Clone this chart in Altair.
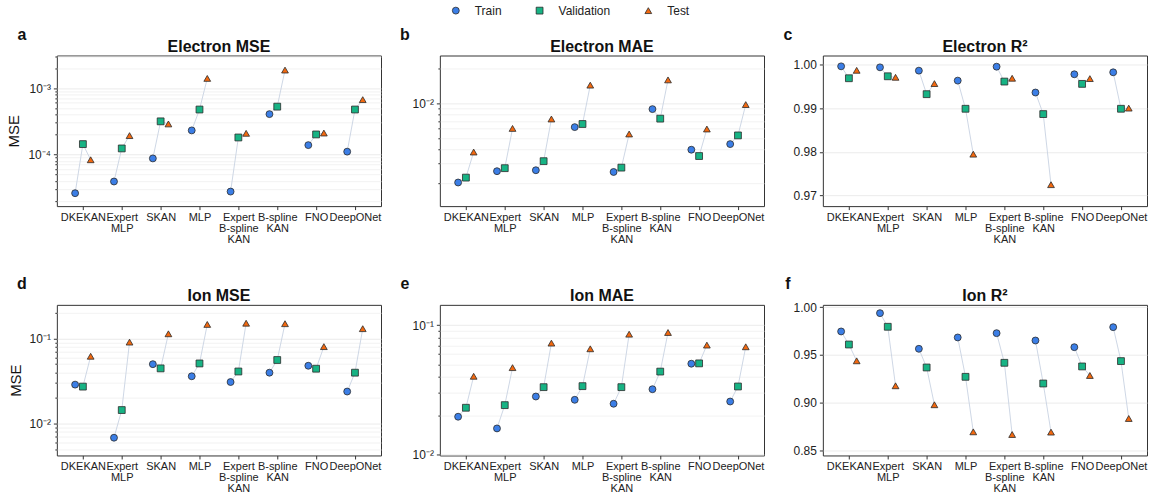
import altair as alt
import pandas as pd
import math

FONT = "Liberation Sans"

models = ["DKEKAN", "Expert MLP", "SKAN", "MLP", "Expert B-spline KAN",
          "B-spline KAN", "FNO", "DeepONet"]
model_lines = [["DKEKAN"], ["Expert", "MLP"], ["SKAN"], ["MLP"],
               ["Expert", "B-spline", "KAN"], ["B-spline", "KAN"], ["FNO"], ["DeepONet"]]
splits = ["Train", "Validation", "Test"]
split_offsets = [-0.2, 0.0, 0.2]
split_colors = ["#3b7ee6", "#17b384", "#f2680f"]
split_shapes = ["circle", "square", "triangle-up"]

# ---- values ----
e_mse_train = [2.6e-5, 3.9e-5, 8.7e-5, 2.3e-4, 2.75e-5, 4.05e-4, 1.38e-4, 1.1e-4]
e_mse_val = [1.43e-4, 1.23e-4, 3.15e-4, 4.75e-4, 1.8e-4, 5.25e-4, 2.0e-4, 4.75e-4]
e_mse_test = [8.3e-5, 1.92e-4, 2.88e-4, 1.4e-3, 2.08e-4, 1.87e-3, 2.1e-4, 6.7e-4]

e_mae_train = [2.04e-3, 2.56e-3, 2.61e-3, 6.2e-3, 2.52e-3, 8.9e-3, 3.94e-3, 4.41e-3]
e_mae_val = [2.25e-3, 2.72e-3, 3.13e-3, 6.6e-3, 2.75e-3, 7.35e-3, 3.47e-3, 5.25e-3]
e_mae_test = [3.76e-3, 6.04e-3, 7.3e-3, 1.44e-2, 5.4e-3, 1.6e-2, 5.97e-3, 9.75e-3]

e_r2_train = [0.99962, 0.99939, 0.99863, 0.99635, 0.99954, 0.99362, 0.9978, 0.99825]
e_r2_val = [0.99689, 0.99734, 0.99324, 0.9899, 0.99613, 0.98868, 0.9956, 0.9899]
e_r2_test = [0.99871, 0.99711, 0.99567, 0.9795, 0.99689, 0.97251, 0.99681, 0.99005]

i_mse_train = [2.87e-2, 6.8e-3, 5.0e-2, 3.6e-2, 3.08e-2, 3.97e-2, 4.79e-2, 2.38e-2]
i_mse_val = [2.72e-2, 1.44e-2, 4.46e-2, 5.1e-2, 4.1e-2, 5.6e-2, 4.42e-2, 3.97e-2]
i_mse_test = [6.2e-2, 9.1e-2, 0.114, 0.147, 0.152, 0.15, 8.05e-2, 0.131]

i_mae_train = [1.97e-2, 1.6e-2, 2.82e-2, 2.66e-2, 2.48e-2, 3.21e-2, 5.05e-2, 2.58e-2]
i_mae_val = [2.31e-2, 2.42e-2, 3.33e-2, 3.39e-2, 3.33e-2, 4.39e-2, 5.08e-2, 3.37e-2]
i_mae_test = [4.04e-2, 4.71e-2, 7.28e-2, 6.58e-2, 8.53e-2, 8.79e-2, 7.03e-2, 6.82e-2]

i_r2_train = [0.9745, 0.9937, 0.9563, 0.9682, 0.9727, 0.965, 0.958, 0.979]
i_r2_val = [0.9608, 0.9794, 0.9367, 0.9269, 0.9416, 0.9199, 0.9378, 0.9434]
i_r2_test = [0.9437, 0.9175, 0.8976, 0.8692, 0.8664, 0.8689, 0.9283, 0.8832]

PW, PH = 325, 151

SUP = {-1: "10⁻¹", -2: "10⁻²", -3: "10⁻³", -4: "10⁻⁴", -5: "10⁻⁵"}


def make_df(train, val, test):
    rows = []
    for i, m in enumerate(models):
        for s, off, vals in zip(splits, split_offsets, [train, val, test]):
            rows.append({"model": m, "idx": i, "split": s, "off": off,
                         "x": i + off, "value": vals[i]})
    return pd.DataFrame(rows)


def log_ticks(lo, hi):
    out = []
    for k in range(-7, 2):
        for m in range(1, 10):
            v = m * 10.0 ** k
            if lo <= v <= hi:
                out.append(float(f"{v:.10g}"))
    return out


x_label_expr = "[" + ",".join("[" + ",".join(f"'{t}'" for t in ln) + "]" for ln in model_lines) + "][datum.value]"

MAJOR = "abs(log(datum.value)/LN10 - round(log(datum.value)/LN10)) < 0.001"
log_label_expr = MAJOR + " ? (" + " : ".join(
    f"round(log(datum.value)/LN10) == {k} ? '{s}'" for k, s in SUP.items()) + " : '') : ''"


def panel(train, val, test, title, letter, domain, log, ytitle=None):
    df = make_df(train, val, test)
    xenc = alt.X("x:Q", scale=alt.Scale(domain=[-0.67, 7.67], nice=False, zero=False),
                 axis=alt.Axis(values=list(range(8)), labelExpr=x_label_expr, grid=False,
                               title=None, tickSize=3.5, labelFontSize=11, labelLineHeight=11,
                               labelPadding=2, domain=False, labelBaseline="top",
                               labelOverlap=False, labelBound=False, labelFlush=False))
    if log:
        yaxis = alt.Axis(values=log_ticks(*domain), labelExpr=log_label_expr,
                         tickSize={"condition": {"test": MAJOR, "value": 3.5}, "value": 2},
                         gridColor={"condition": {"test": MAJOR, "value": "#e6e6e6"}, "value": "#efefef"},
                         labelFontSize=12, labelPadding=3, domain=False, labelOverlap=False,
                         labelFlush=False, labelBound=False,
                         title=ytitle if ytitle else None, titlePadding=6)
        yscale = alt.Scale(type="log", domain=domain, nice=False)
    else:
        yaxis = alt.Axis(values=[round(v, 2) for v in
                                 ([0.97, 0.98, 0.99, 1.00] if domain[0] > 0.96 else [0.85, 0.90, 0.95, 1.00])],
                         format=".2f", tickSize=3.5, labelFontSize=12, labelPadding=3,
                         domain=False, gridColor="#e6e6e6", title=None, labelFlush=False,
                         labelOverlap=False)
        yscale = alt.Scale(domain=domain, nice=False, zero=False)
    yenc = alt.Y("value:Q", scale=yscale, axis=yaxis)

    base = alt.Chart(df)
    lines = base.mark_line(color="#c8d2e2", strokeWidth=0.9).encode(
        x=xenc, y=yenc, detail="model:N", order="off:Q")
    legend = alt.Legend(orient="none", legendX=394, legendY=-51, direction="horizontal",
                        title=None, labelFontSize=12, labelFont=FONT, columnPadding=32,
                        labelOffset=13, symbolStrokeColor="#2b2b2b", symbolStrokeWidth=0.8,
                        symbolSize=70, symbolType="circle")
    pts = base.mark_point(filled=True, opacity=1, stroke="#2b2b2b", strokeWidth=0.8).encode(
        x=xenc, y=yenc,
        color=alt.Color("split:N", scale=alt.Scale(domain=splits, range=split_colors), legend=legend),
        shape=alt.Shape("split:N", scale=alt.Scale(domain=splits, range=split_shapes), legend=legend),
        size=alt.Size("split:N", scale=alt.Scale(domain=splits, range=[48, 46, 66]), legend=legend),
    )
    txt = pd.DataFrame({"t": [letter, title], "kind": ["letter", "title"]})
    lab = alt.Chart(txt).transform_filter("datum.kind == 'letter'").mark_text(
        font=FONT, fontSize=16, fontWeight="bold", align="center", baseline="middle", color="#111"
    ).encode(text="t:N", x=alt.value(-35), y=alt.value(-21))
    ttl = alt.Chart(txt).transform_filter("datum.kind == 'title'").mark_text(
        font=FONT, fontSize=16, fontWeight="bold", align="center", baseline="alphabetic", color="#111"
    ).encode(text="t:N", x=alt.value(PW / 2), y=alt.value(-4))
    return alt.layer(lines, pts, lab, ttl).properties(width=PW, height=PH)


pa = panel(e_mse_train, e_mse_val, e_mse_test, "Electron MSE", "a", [1.66e-5, 3.1e-3], True, "MSE")
pb = panel(e_mae_train, e_mae_val, e_mae_test, "Electron MAE", "b", [1.27e-3, 2.61e-2], True)
pc = panel(e_r2_train, e_r2_val, e_r2_test, "Electron R²", "c", [0.9676, 1.0021], False)
pd_ = panel(i_mse_train, i_mse_val, i_mse_test, "Ion MSE", "d", [4.2e-3, 0.25], True, "MSE")
pe = panel(i_mae_train, i_mae_val, i_mae_test, "Ion MAE", "e", [0.0099, 0.1436], True)
pf = panel(i_r2_train, i_r2_val, i_r2_test, "Ion R²", "f", [0.8444, 1.0024], False)

chart = alt.concat(pa, pb, pc, pd_, pe, pf, columns=3,
                   spacing={"row": 99, "column": 59}, bounds="flush").properties(
    padding={"left": 6, "top": 4, "right": 5, "bottom": 5}
).configure_view(stroke="#333333", strokeWidth=1).configure_axis(
    labelFont=FONT, titleFont=FONT, labelColor="#222", titleColor="#111",
    tickColor="#333", titleFontSize=15, titleFontWeight="normal", gridWidth=0.8
).configure_legend(labelColor="#222")

chart.save("out.html", embed_options={"renderer": "svg", "actions": False})
